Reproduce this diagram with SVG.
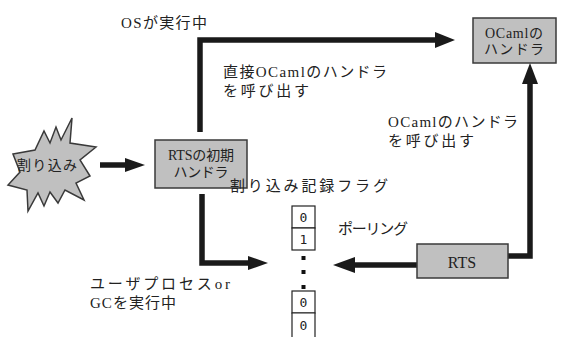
<svg xmlns="http://www.w3.org/2000/svg" width="563" height="337" viewBox="0 0 563 337">
<style>
.lbl{font-family:'Liberation Serif','DejaVu Serif','Noto Sans CJK JP',serif;font-size:15px;fill:#222}
.box{fill:#c0c0c0;stroke:#3a3a3a;stroke-width:1.5}
.bt{font-family:'Liberation Serif','DejaVu Serif','Noto Sans CJK JP',serif;font-size:14px;fill:#222;text-anchor:middle}
.big{font-size:16px}
.conn{fill:none;stroke:#1a1a1a;stroke-width:5.5}
.head{fill:#1a1a1a}
.flag{fill:#fff;stroke:#222;stroke-width:1.2}
.fd{font-family:'DejaVu Sans Mono',monospace;font-size:13px;fill:#222;text-anchor:middle}
</style>
<rect width="563" height="337" fill="#fff"/>
<g id="connectors">
<path class="conn" d="M100,165 H127"/>
<polygon class="head" points="125,158 145,165 125,172"/>
<path class="conn" d="M200,132 V40 H437"/>
<polygon class="head" points="435,32 455,40 435,48"/>
<path class="conn" d="M202,194 V263 H250"/>
<polygon class="head" points="248,256 268,263 248,270"/>
<path class="conn" d="M508,256 H530 V82"/>
<polygon class="head" points="522,84 530,63 538,84"/>
<path class="conn" d="M417,265 H353"/>
<polygon class="head" points="355,257 333,265 355,273"/>
</g>
<g id="interrupt">
<polygon class="box" points="13,154 35,150 44,131 50,143 56,127 61,140 72,118 70,143 96,147 80,160 90,176 76,183 84,200 65,190 58,203 50,192 44,206 38,193 28,211 27,190 8,185 20,172"/>
<text class="bt" x="47" y="170" textLength="60" lengthAdjust="spacing">割り込み</text>
</g>
<g id="rts-init">
<rect class="box" x="155" y="140" width="92" height="48"/>
<text class="bt" x="201" y="160" textLength="66" lengthAdjust="spacing">RTSの初期</text>
<text class="bt" x="201" y="177" textLength="55" lengthAdjust="spacing">ハンドラ</text>
</g>
<g id="ocaml-handler">
<rect class="box" x="473" y="18" width="83" height="45"/>
<text class="bt" x="514" y="38" textLength="58" lengthAdjust="spacing">OCamlの</text>
<text class="bt" x="514" y="54" textLength="60" lengthAdjust="spacing">ハンドラ</text>
</g>
<g id="rts">
<rect class="box" x="417" y="244" width="91" height="34"/>
<text class="bt big" x="462" y="268">RTS</text>
</g>
<g id="flags">
<rect class="flag" x="292" y="206" width="23" height="22"/>
<text class="fd" x="303.5" y="222">0</text>
<rect class="flag" x="292" y="228" width="23" height="22"/>
<text class="fd" x="303.5" y="244">1</text>
<rect x="301.5" y="256" width="4" height="4" fill="#111"/>
<rect x="301.5" y="270" width="4" height="4" fill="#111"/>
<rect x="301.5" y="285" width="4" height="4" fill="#111"/>
<rect class="flag" x="292" y="291" width="23" height="22"/>
<text class="fd" x="303.5" y="307">0</text>
<path class="flag" d="M292,337 V313 H315 V337"/>
<text class="fd" x="303.5" y="330">0</text>
</g>
<g id="labels">
<text class="lbl" x="121" y="28" textLength="86" lengthAdjust="spacing">OSが実行中</text>
<text class="lbl" x="223" y="77" textLength="164" lengthAdjust="spacing">直接OCamlのハンドラ</text>
<text class="lbl" x="223" y="96" textLength="86" lengthAdjust="spacing">を呼び出す</text>
<text class="lbl" x="388" y="127" textLength="130" lengthAdjust="spacing">OCamlのハンドラ</text>
<text class="lbl" x="388" y="146" textLength="86" lengthAdjust="spacing">を呼び出す</text>
<text class="lbl" x="230" y="191" textLength="158" lengthAdjust="spacing">割り込み記録フラグ</text>
<text class="lbl" x="338" y="234" textLength="70" lengthAdjust="spacing">ポーリング</text>
<text class="lbl" x="90" y="289" textLength="140" lengthAdjust="spacing">ユーザプロセスor</text>
<text class="lbl" x="90" y="308" textLength="86" lengthAdjust="spacing">GCを実行中</text>
</g>
</svg>
